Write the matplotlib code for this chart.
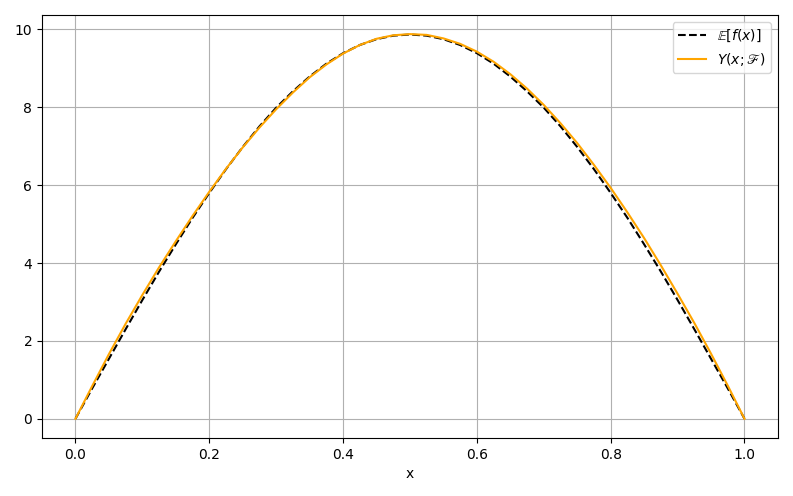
import numpy as np
import matplotlib
matplotlib.use("Agg")
import matplotlib.pyplot as plt

# values
x = [0.0, 0.025, 0.05, 0.075, 0.1, 0.125, 0.15, 0.175, 0.2, 0.225, 0.25,
     0.275, 0.3, 0.325, 0.35, 0.375, 0.4, 0.425, 0.45, 0.475, 0.5,
     0.525, 0.55, 0.575, 0.6, 0.625, 0.65, 0.675, 0.7, 0.725, 0.75,
     0.775, 0.8, 0.825, 0.85, 0.875, 0.9, 0.925, 0.95, 0.975, 1.0]

mean_f = [0.0, 0.78, 1.54, 2.30, 3.05, 3.78, 4.48, 5.16, 5.80, 6.41, 6.98,
          7.51, 7.99, 8.41, 8.79, 9.12, 9.39, 9.60, 9.75, 9.84, 9.87,
          9.84, 9.75, 9.60, 9.39, 9.12, 8.79, 8.41, 7.99, 7.51, 6.98,
          6.41, 5.80, 5.16, 4.48, 3.78, 3.05, 2.30, 1.54, 0.78, 0.0]

y_pred = [0.0, 0.84, 1.66, 2.44, 3.18, 3.89, 4.56, 5.21, 5.83, 6.42, 6.97,
          7.48, 7.95, 8.38, 8.77, 9.10, 9.38, 9.60, 9.76, 9.85, 9.88,
          9.86, 9.77, 9.63, 9.43, 9.17, 8.85, 8.48, 8.06, 7.59, 7.08,
          6.52, 5.93, 5.30, 4.64, 3.94, 3.21, 2.46, 1.67, 0.85, 0.0]

fig = plt.figure(figsize=(7.93, 4.96), dpi=100)
ax = fig.add_axes([0.053, 0.117, 0.928, 0.853])

ax.plot(x, mean_f, '--', color='black', label=r'$\mathbb{E}[f(x)]$')
ax.plot(x, y_pred, '-', color='orange', label=r'$Y(x;\mathscr{F})$')

ax.set_xlabel('x')
ax.set_xticks([0.0, 0.2, 0.4, 0.6, 0.8, 1.0])
ax.grid(True)
ax.legend(loc='upper right')

fig.savefig('out.png', dpi=100)
